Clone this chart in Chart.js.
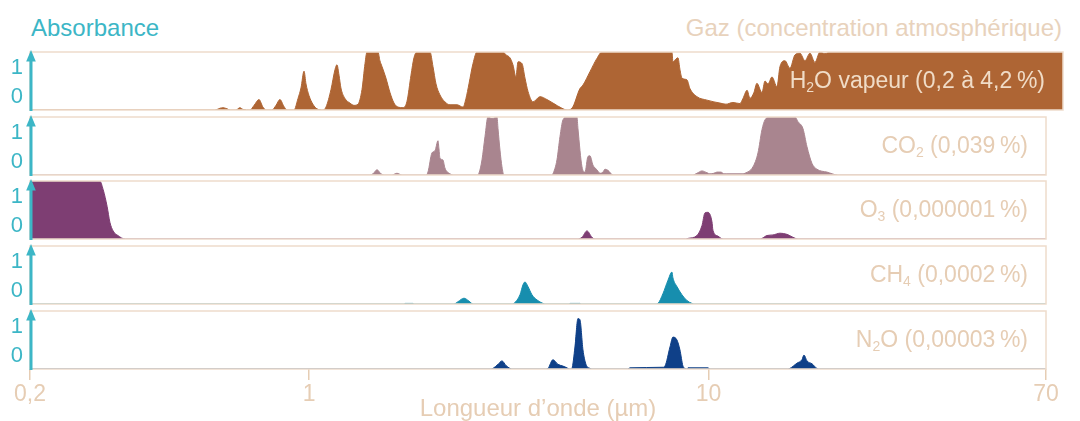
<!DOCTYPE html>
<html>
<head>
<meta charset="utf-8">
<script src="https://cdn.jsdelivr.net/npm/chart.js@4.4.1/dist/chart.umd.min.js"></script>
<style>
body { margin: 0; width: 1080px; height: 421px; background: #fff; position: relative; overflow: hidden; font-family: "Liberation Sans", Arial, sans-serif; }
canvas { position: absolute; left: 0; }
.head { position: absolute; top: 16px; font-size: 24px; line-height: 24px; white-space: nowrap; }
</style>
</head>
<body>
<div class="head" style="left:31px;color:#3cb6c6">Absorbance</div>
<div class="head" style="right:18px;color:#e8d2bc">Gaz (concentration atmosphérique)</div>
<canvas id="h2o"></canvas>
<canvas id="co2"></canvas>
<canvas id="o3"></canvas>
<canvas id="ch4"></canvas>
<canvas id="n2o"></canvas>
<script>
// Longueurs d'onde (µm) et absorbance (0 a 1)
var xTicks = [0.2, 1, 10, 70];
var yTicks = [0.22, 0.72];
var yLabels = ['0', '1'];

var h2oWl = [0.2, 0.581, 0.598, 0.608, 0.623, 0.634, 0.656, 0.671, 0.683, 0.711, 0.728, 0.749, 0.766, 0.780,
  0.807, 0.826, 0.845, 0.865, 0.880, 0.916, 0.938, 0.954, 0.971, 0.982, 0.999, 1.022, 1.046, 1.083,
  1.102, 1.134, 1.161, 1.174, 1.188, 1.201, 1.229, 1.265, 1.295, 1.325, 1.356, 1.380, 1.396, 1.487,
  1.504, 1.522, 1.557, 1.594, 1.631, 1.669, 1.718, 1.758, 1.799, 1.830, 1.862, 2.007, 2.042, 2.078,
  2.126, 2.188, 2.253, 2.345, 2.428, 2.470, 2.513, 2.572, 2.632, 3.058, 3.111, 3.183, 3.238, 3.295,
  3.334, 3.412, 3.471, 3.532, 3.635, 3.785, 3.940, 4.078, 4.296, 4.422, 4.550, 4.765, 4.849, 5.048,
  5.256, 5.410, 8.099, 8.146, 8.288, 8.384, 8.481, 8.580, 8.831, 8.985, 9.355, 9.911, 10.32, 10.68,
  11.06, 11.51, 11.99, 12.20, 12.49, 12.70, 12.99, 13.22, 13.61, 13.85, 14.09, 14.42, 14.84, 15.10,
  15.54, 15.99, 16.46, 16.94, 17.44, 17.95, 18.47, 19.01, 19.57, 20.14, 77.2];
var h2oAbs = [0, 0, 0.03, 0.04, 0.02, 0, 0, 0.04, 0.01, 0, 0.08, 0.18, 0.05, 0,
  0, 0.08, 0.18, 0.06, 0, 0, 0.2, 0.38, 0.67, 0.45, 0.25, 0.1, 0.02, 0,
  0.05, 0.35, 0.7, 0.78, 0.6, 0.38, 0.2, 0.12, 0.08, 0.1, 0.35, 0.8, 1, 1,
  0.85, 0.75, 0.55, 0.3, 0.12, 0.05, 0.04, 0.15, 0.6, 0.9, 1, 1, 0.75, 0.45,
  0.26, 0.14, 0.09, 0.09, 0.05, 0.2, 0.45, 0.8, 1, 1, 0.95, 0.9, 0.78, 0.57,
  0.83, 0.8, 0.55, 0.32, 0.14, 0.23, 0.18, 0.12, 0.03, 0, 0.03, 0.37, 0.43, 0.66,
  0.89, 1, 1, 0.83, 0.88, 0.9, 0.7, 0.55, 0.52, 0.37, 0.23, 0.17, 0.14, 0.12,
  0.1, 0.13, 0.11, 0.2, 0.34, 0.2, 0.3, 0.46, 0.3, 0.5, 0.45, 0.57, 0.4, 0.75,
  0.85, 0.72, 0.95, 0.98, 0.85, 0.98, 0.82, 1, 0.97, 1, 1];

var co2Wl = [0.2, 1.420, 1.445, 1.479, 1.513, 1.539, 1.612, 1.659, 1.708, 1.961, 1.984, 2.030, 2.066,
  2.102, 2.114, 2.126, 2.163, 2.188, 2.253, 2.292, 2.632, 2.662, 2.709, 2.756, 2.804, 2.870, 2.954,
  2.971, 3.005, 3.040, 3.075, 4.055, 4.078, 4.174, 4.247, 4.321, 4.422, 4.684, 4.711, 4.822, 4.906,
  4.991, 5.048, 5.137, 5.256, 5.348, 5.441, 5.505, 5.601, 5.765, 9.143, 9.355, 9.629, 9.911, 10.08,
  10.32, 10.50, 10.74, 10.93, 11.12, 12.20, 12.34, 12.92, 13.30, 13.61, 13.85, 14.25, 16.46, 16.75,
  17.24, 17.64, 18.16, 18.68, 19.80, 21.09, 70];
var co2Abs = [0, 0, 0.02, 0.09, 0.02, 0, 0, 0.03, 0, 0, 0.05, 0.38, 0.42,
  0.59, 0.45, 0.29, 0.26, 0.12, 0.02, 0, 0, 0.03, 0.26, 0.66, 1, 0.97, 1,
  0.8, 0.43, 0.14, 0, 0, 0.02, 0.26, 0.66, 0.95, 1, 1, 0.8, 0.14, 0.05,
  0.32, 0.33, 0.17, 0.09, 0.03, 0.05, 0.1, 0.08, 0, 0, 0.03, 0.07, 0.04, 0.02,
  0.03, 0.05, 0.05, 0.02, 0.02, 0.02, 0.03, 0.14, 0.38, 0.78, 0.95, 1, 1, 0.92,
  0.8, 0.49, 0.2, 0.1, 0.05, 0, 0];

var o3Wl = [0.2, 0.299, 0.305, 0.312, 0.317, 0.323, 0.332, 0.346, 4.711, 4.822, 4.962, 5.108, 5.197,
  8.780, 8.882, 9.355, 9.629, 9.797, 9.968, 10.20, 10.26, 10.56, 10.87, 13.46, 13.61, 14.01, 14.50,
  15.10, 15.72, 16.27, 16.75, 70];
var o3Abs = [1, 1, 0.85, 0.56, 0.29, 0.14, 0.06, 0, 0, 0.03, 0.14, 0.03, 0,
  0, 0.01, 0.06, 0.23, 0.45, 0.46, 0.3, 0.15, 0.05, 0, 0, 0.01, 0.06, 0.07,
  0.1, 0.08, 0.03, 0, 0];

var ch4Wl = [0.2, 1.728, 1.738, 1.820, 1.830, 2.305, 2.359, 2.442, 2.513, 2.572, 3.219, 3.257, 3.373,
  3.431, 3.471, 3.532, 3.614, 3.720, 3.851, 3.896, 4.474, 4.500, 4.765, 4.794, 7.387, 7.472, 7.692,
  7.917, 8.099, 8.146, 8.337, 8.580, 8.831, 9.090, 9.196, 70];
var ch4Abs = [0, 0, 0.01, 0.01, 0, 0, 0.04, 0.1, 0.05, 0, 0, 0.01, 0.16,
  0.33, 0.38, 0.3, 0.16, 0.07, 0.01, 0, 0, 0.01, 0.01, 0, 0, 0.01, 0.18,
  0.41, 0.55, 0.45, 0.3, 0.16, 0.06, 0.01, 0, 0];

var n2oWl = [0.2, 2.853, 2.886, 2.971, 3.040, 3.111, 3.183, 3.219, 3.917, 3.963, 4.078, 4.199, 4.321,
  4.422, 4.474, 4.526, 4.550, 4.630, 4.711, 4.765, 4.849, 4.934, 5.048, 5.108, 6.285, 6.358, 7.692,
  7.781, 8.009, 8.146, 8.337, 8.481, 8.630, 8.730, 8.831, 8.882, 9.968, 10.08, 15.81, 15.99, 16.65,
  17.14, 17.34, 17.64, 18.16, 18.68, 18.90, 70];
var n2oAbs = [0, 0, 0.01, 0.08, 0.14, 0.06, 0.01, 0, 0, 0.01, 0.16, 0.08, 0.05,
  0.02, 0, 0, 0.01, 0.38, 0.87, 0.85, 0.33, 0.08, 0.01, 0, 0, 0.02, 0.03,
  0.05, 0.38, 0.55, 0.5, 0.33, 0.05, 0.01, 0, 0.02, 0.02, 0, 0, 0.01, 0.1,
  0.16, 0.24, 0.14, 0.09, 0.01, 0, 0];

var cyan = '#3cb6c6';
var tan = '#e6cdb4';
var frameColor = '#eedccb';
var fontFamily = '"Liberation Sans", Arial, sans-serif';
Chart.defaults.font.family = fontFamily;

// cadre, fleche de l'axe et nom du gaz
var cadrePlugin = {
  id: 'cadre',
  afterDatasetsDraw: function(chart, args, opts) {
    var a = chart.chartArea;
    var ctx = chart.ctx;
    ctx.save();
    ctx.strokeStyle = frameColor;
    ctx.lineWidth = 1.5;
    ctx.strokeRect(a.left, a.top, a.right - a.left, a.bottom - a.top);

    ctx.strokeStyle = cyan;
    ctx.lineWidth = 3;
    ctx.beginPath();
    ctx.moveTo(a.left + 1, a.bottom + 1);
    ctx.lineTo(a.left + 1, a.top + 8);
    ctx.stroke();
    ctx.fillStyle = cyan;
    ctx.beginPath();
    ctx.moveTo(a.left + 1, a.top - 2);
    ctx.lineTo(a.left - 3.8, a.top + 9.5);
    ctx.lineTo(a.left + 5.8, a.top + 9.5);
    ctx.closePath();
    ctx.fill();

    var big = '23px ' + fontFamily, small = '14px ' + fontFamily;
    var total = 0;
    opts.label.forEach(function(p) {
      ctx.font = p[1] ? small : big;
      total += ctx.measureText(p[0]).width;
    });
    var x = a.right - 18 - total;
    var y = (a.top + a.bottom) / 2 + 1;
    ctx.fillStyle = opts.color;
    ctx.textBaseline = 'middle';
    ctx.textAlign = 'left';
    opts.label.forEach(function(p) {
      ctx.font = p[1] ? small : big;
      ctx.fillText(p[0], x, p[1] ? y + 6 : y);
      x += ctx.measureText(p[0]).width;
    });
    ctx.restore();
  }
};

var panels = [
  { id: 'h2o', top: 52, wl: h2oWl, abs: h2oAbs, color: '#ae6534', max: 77.2, right: 17,
    label: [['H', 0], ['2', 1], ['O vapeur (0,2 à 4,2\u2009%)', 0]], labelColor: '#f0dcc7' },
  { id: 'co2', top: 117, wl: co2Wl, abs: co2Abs, color: '#a9858f', max: 70, right: 34,
    label: [['CO', 0], ['2', 1], [' (0,039\u2009%)', 0]], labelColor: tan },
  { id: 'o3', top: 181, wl: o3Wl, abs: o3Abs, color: '#7e3e73', max: 70, right: 34,
    label: [['O', 0], ['3', 1], [' (0,000001\u2009%)', 0]], labelColor: tan },
  { id: 'ch4', top: 246, wl: ch4Wl, abs: ch4Abs, color: '#178eae', max: 70, right: 34,
    label: [['CH', 0], ['4', 1], [' (0,0002\u2009%)', 0]], labelColor: tan },
  { id: 'n2o', top: 311, wl: n2oWl, abs: n2oAbs, color: '#0f4088', max: 70, right: 34,
    label: [['N', 0], ['2', 1], ['O (0,00003\u2009%)', 0]], labelColor: tan }
];

panels.forEach(function(p, i) {
  var last = (i === panels.length - 1);
  var canvas = document.getElementById(p.id);
  canvas.width = 1080;
  canvas.height = last ? 421 - (p.top - 5) : 65;
  canvas.style.top = (p.top - 5) + 'px';

  var points = p.wl.map(function(w, k) { return { x: w, y: p.abs[k] }; });

  new Chart(canvas, {
    type: 'line',
    data: {
      datasets: [{
        data: points,
        fill: 'origin',
        backgroundColor: p.color,
        borderColor: p.color,
        borderWidth: 1,
        pointRadius: 0,
        cubicInterpolationMode: 'monotone'
      }]
    },
    options: {
      responsive: false,
      animation: false,
      layout: { padding: { top: 5, bottom: last ? 0 : 2, left: 0, right: p.right } },
      plugins: {
        legend: { display: false },
        tooltip: { enabled: false },
        cadre: { label: p.label, color: p.labelColor }
      },
      scales: {
        x: {
          type: 'logarithmic',
          min: 0.2,
          max: p.max,
          display: last,
          afterBuildTicks: function(s) { s.ticks = xTicks.map(function(v) { return { value: v }; }); },
          afterFit: function(s) {
            if (s.options.display) s.height = 52;
            s.paddingLeft = 0;
            s.paddingRight = 0;
          },
          ticks: {
            autoSkip: false,
            maxRotation: 0,
            padding: 1,
            color: tan,
            font: { size: 23 },
            callback: function(v) { return String(v).replace('.', ','); }
          },
          grid: { drawOnChartArea: false, drawTicks: true, tickLength: 11, color: tan, lineWidth: 1.5 },
          border: { display: false },
          title: {
            display: true,
            text: 'Longueur d\u2019onde (µm)',
            color: tan,
            font: { size: 24, lineHeight: 1 },
            padding: { top: 0, bottom: 0 }
          }
        },
        y: {
          min: 0,
          max: 1,
          afterFit: function(s) {
            s.width = 30;
            s.paddingTop = 0;
            s.paddingBottom = 0;
          },
          afterBuildTicks: function(s) { s.ticks = yTicks.map(function(v) { return { value: v }; }); },
          ticks: {
            padding: 7,
            color: cyan,
            font: { size: 22 },
            callback: function(v, k) { return yLabels[k]; }
          },
          grid: { display: false, drawTicks: false },
          border: { display: false }
        }
      }
    },
    plugins: [cadrePlugin]
  });
});
</script>
</body>
</html>
